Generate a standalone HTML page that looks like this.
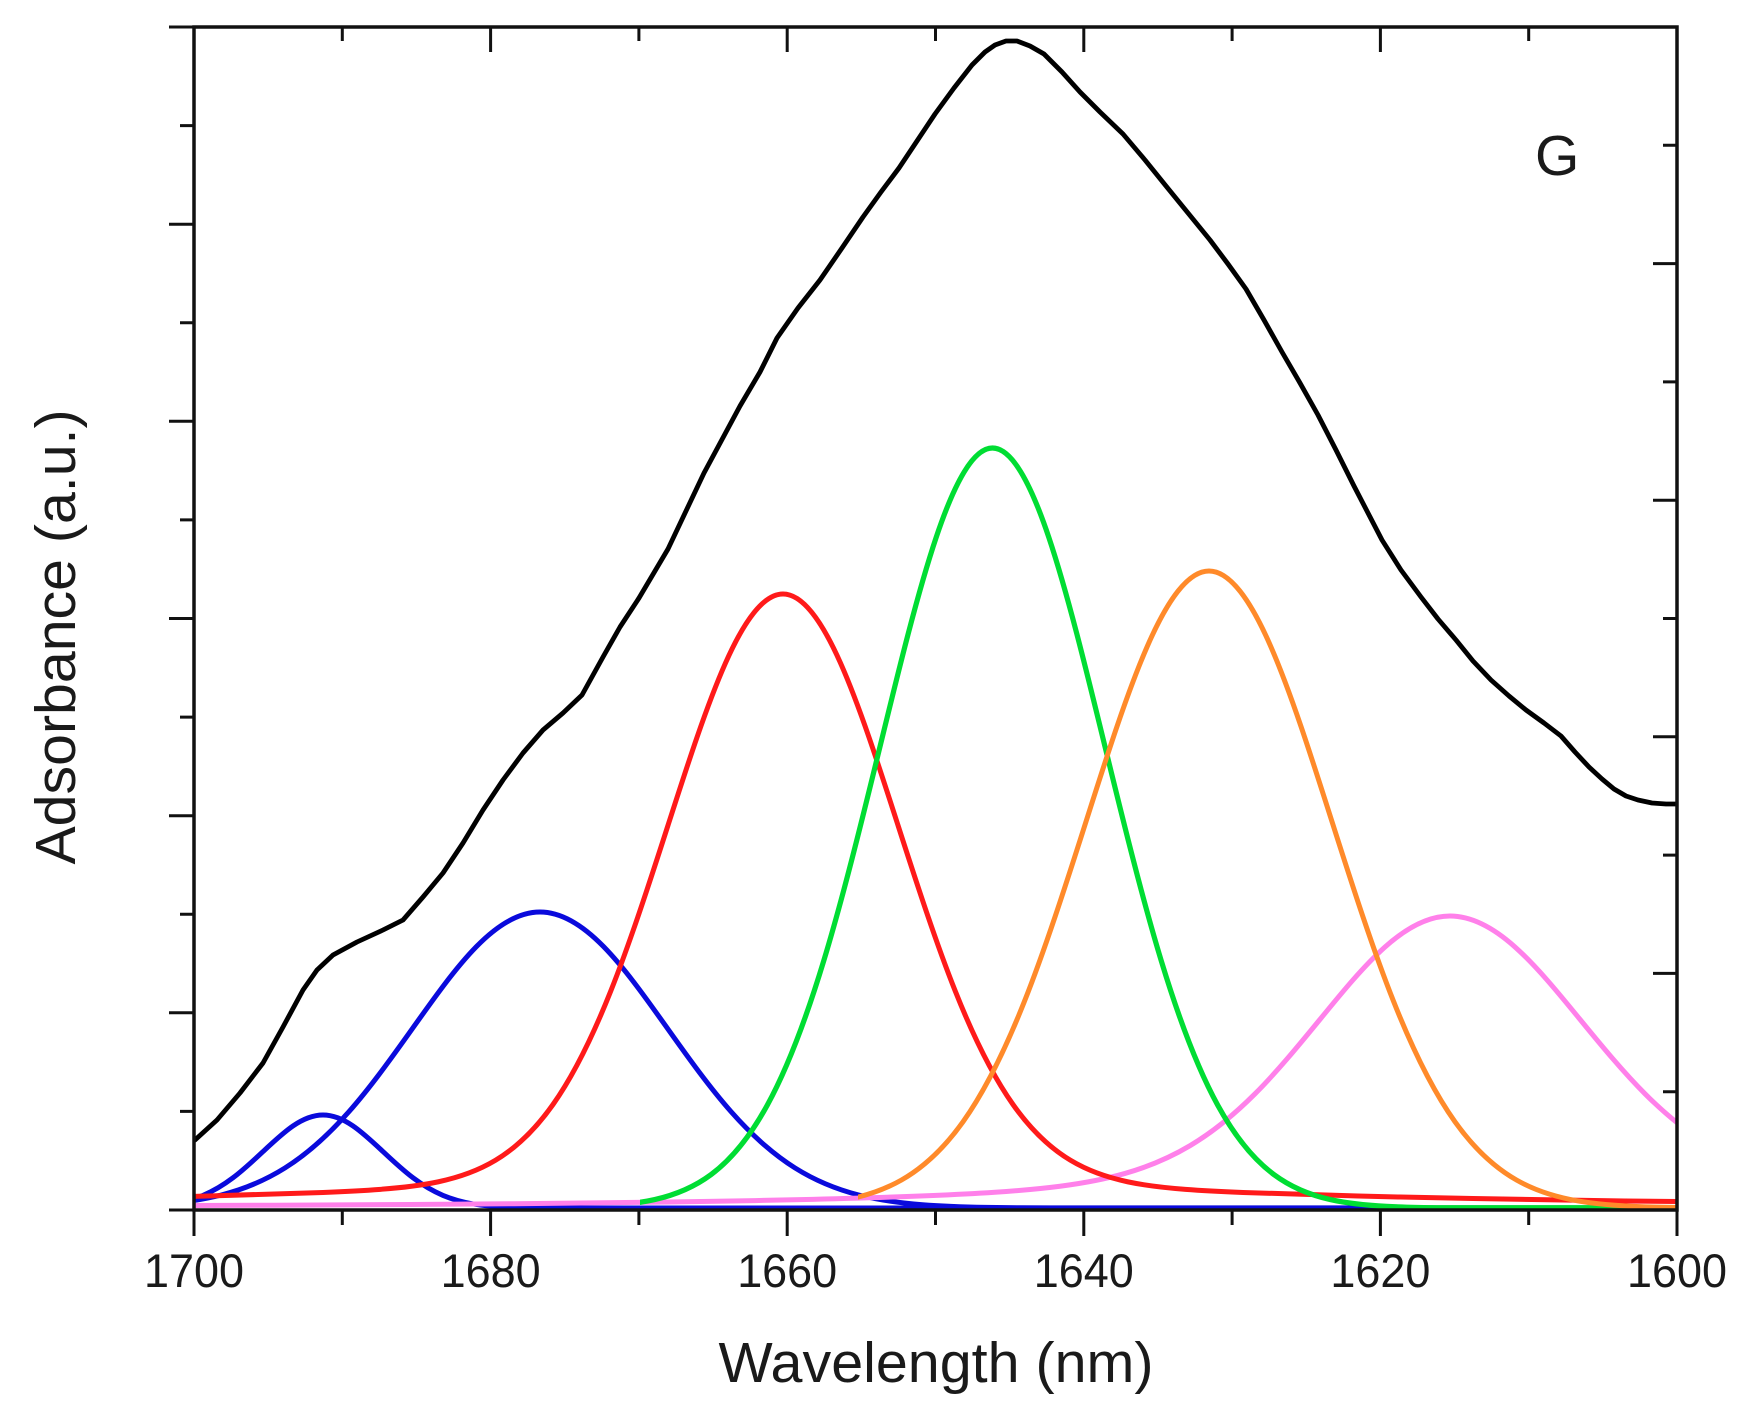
<!DOCTYPE html>
<html>
<head>
<meta charset="utf-8">
<style>
html, body { margin:0; padding:0; background:#ffffff; }
body { width:1746px; height:1423px; overflow:hidden; }
svg { display:block; }
text { font-family: "Liberation Sans", Arial, sans-serif; fill:#1a1a1a; }
</style>
</head>
<body>
<svg width="1746" height="1423" viewBox="0 0 1746 1423" xmlns="http://www.w3.org/2000/svg" xmlns:xlink="http://www.w3.org/1999/xlink">
<defs>
<clipPath id="plot"><rect x="194" y="0" width="1483" height="1212"/></clipPath>
<clipPath id="clipGreen"><rect x="640" y="0" width="1037" height="1212"/></clipPath>
<clipPath id="clipOrange"><rect x="858" y="0" width="819" height="1212"/></clipPath>
<path id="gauss" vector-effect="non-scaling-stroke" d="M-30 0 L-4 0.000335 C-3.8333 0.00056 -3.6667 0.00091 -3.5 0.00219 C-3.3333 0.00347 -3.1667 0.00555 -3 0.01111 C-2.8333 0.01667 -2.6667 0.02563 -2.5 0.04394 C-2.3333 0.06225 -2.1667 0.09023 -2 0.13534 C-1.8333 0.18045 -1.6667 0.24349 -1.5 0.32465 C-1.3333 0.40581 -1.1667 0.50544 -1 0.60653 C-0.8333 0.70762 -0.6667 0.80896 -0.5 0.8825 C-0.3333 0.95604 -0.1667 1 0 1 C0.1667 1 0.3333 0.95604 0.5 0.8825 C0.6667 0.80896 0.8333 0.70762 1 0.60653 C1.1667 0.50544 1.3333 0.40581 1.5 0.32465 C1.6667 0.24349 1.8333 0.18045 2 0.13534 C2.1667 0.09023 2.3333 0.06225 2.5 0.04394 C2.6667 0.02563 2.8333 0.01667 3 0.01111 C3.1667 0.00555 3.3333 0.00347 3.5 0.00219 C3.6667 0.00091 3.8333 0.00056 4 0.000335 L30 0"/>
</defs>
<rect x="0" y="0" width="1746" height="1423" fill="#ffffff"/>

<g clip-path="url(#plot)" fill="none" stroke-linejoin="round">
<polyline stroke="#000000" stroke-width="4.8" stroke-linecap="round" points="195,1140 217,1120 240,1093 263,1063 283,1027 303,990 317,970 333,955 357,942 383,930 403,920 423,897 443,873 463,843 483,810 503,780 523,753 543,730 563,713 582,695 603,657 620,627 639,598 668,549 704,473 740,406 760,372 777,338 798,308 820,280 842,248 863,217 881,192 899,168 917,141 935,114 954,88 972,65 985,52 995,45 1006,41 1017,41 1030,46 1044,54 1062,72 1080,92 1100,112 1123,134 1145,160 1166,186 1188,213 1210,240 1228,264 1246,289 1264,320 1282,352 1300,383 1318,415 1336,450 1354,486 1368,513 1382,540 1401,570 1421,597 1438,619 1456,640 1473,661 1491,680 1509,696 1526,710 1544,723 1561,736 1575,752 1589,767 1602,779 1614,789 1626,796 1638,800 1652,803 1666,804 1677,804"/>
<use href="#gauss" xlink:href="#gauss" transform="translate(323,1208) scale(60,-93)" stroke="#0a0adc" stroke-width="5"/>
<use href="#gauss" xlink:href="#gauss" transform="translate(540,1208) scale(127.5,-296)" stroke="#0a0adc" stroke-width="5"/>
<path transform="translate(1450,1208) scale(130,-292)" vector-effect="non-scaling-stroke" stroke="#ff80ea" stroke-width="5" d="M-10 0.00785 C-9.3333 0.00886 -8.6667 0.01014 -8 0.01205 C-7.3333 0.01396 -6.6667 0.01643 -6 0.02064 C-5.6667 0.02274 -5.3333 0.02529 -5 0.02868 C-4.6667 0.03207 -4.3333 0.03618 -4 0.04235 C-3.8333 0.04544 -3.6667 0.04903 -3.5 0.05393 C-3.3333 0.05883 -3.1667 0.06494 -3 0.07451 C-2.8333 0.08408 -2.6667 0.09708 -2.5 0.11831 C-2.3333 0.13954 -2.1667 0.16925 -2 0.21339 C-1.8333 0.25753 -1.6667 0.31672 -1.5 0.39103 C-1.3333 0.46534 -1.1667 0.5551 -1 0.64594 C-0.8333 0.73678 -0.6667 0.82773 -0.5 0.89397 C-0.3333 0.96021 -0.1667 1 0 1 C0.1667 1 0.3333 0.96021 0.5 0.89397 C0.6667 0.82773 0.8333 0.73678 1 0.64594 C1.1667 0.5551 1.3333 0.46534 1.5 0.39103 C1.6667 0.31672 1.8333 0.25753 2 0.21339 C2.1667 0.16925 2.3333 0.13954 2.5 0.11831"/>
<path transform="translate(783,1208) scale(115,-614)" vector-effect="non-scaling-stroke" stroke="#ff1a1a" stroke-width="5" d="M-10 0.0069 C-9.3333 0.00769 -8.6667 0.00867 -8 0.01 C-7.3333 0.01133 -6.6667 0.01301 -6 0.01538 C-5.6667 0.01656 -5.3333 0.01792 -5 0.01951 C-4.6667 0.0211 -4.3333 0.02281 -4 0.02532 C-3.8333 0.02657 -3.6667 0.02802 -3.5 0.0304 C-3.3333 0.03278 -3.1667 0.03599 -3 0.04255 C-2.8333 0.04911 -2.6667 0.05896 -2.5 0.0777 C-2.3333 0.09644 -2.1667 0.12438 -2 0.16857 C-1.8333 0.21276 -1.6667 0.27395 -1.5 0.35226 C-1.3333 0.43057 -1.1667 0.5263 -1 0.62326 C-0.8333 0.72022 -0.6667 0.81724 -0.5 0.88761 C-0.3333 0.95798 -0.1667 1 0 1 C0.1667 1 0.3333 0.95798 0.5 0.88761 C0.6667 0.81724 0.8333 0.72022 1 0.62326 C1.1667 0.5263 1.3333 0.43057 1.5 0.35226 C1.6667 0.27395 1.8333 0.21276 2 0.16857 C2.1667 0.12438 2.3333 0.09644 2.5 0.0777 C2.6667 0.05896 2.8333 0.04911 3 0.04255 C3.1667 0.03599 3.3333 0.03278 3.5 0.0304 C3.6667 0.02802 3.8333 0.02657 4 0.02532 C4.3333 0.02281 4.6667 0.0211 5 0.01951 C5.3333 0.01792 5.6667 0.01656 6 0.01538 C6.6667 0.01301 7.3333 0.01133 8 0.01 C8.6667 0.00867 9.3333 0.00769 10 0.0069"/>
</g>
<g clip-path="url(#clipGreen)" fill="none" stroke-linejoin="round">
<use href="#gauss" xlink:href="#gauss" transform="translate(992.5,1208) scale(112.6,-760)" stroke="#00dd33" stroke-width="5.2"/>
</g>
<g clip-path="url(#clipOrange)" fill="none" stroke-linejoin="round">
<use href="#gauss" xlink:href="#gauss" transform="translate(1209,1208) scale(123,-637)" stroke="#ff8a2a" stroke-width="5"/>
</g>

<rect x="194" y="27" width="1483" height="1183" fill="none" stroke="#111111" stroke-width="3.5"/>

<path fill="none" stroke="#111111" stroke-width="3" d="M194 1210v26 M342.3 1210v15 M490.6 1210v26 M638.9 1210v15 M787.2 1210v26 M935.5 1210v15 M1083.8 1210v26 M1232.1 1210v15 M1380.4 1210v26 M1528.7 1210v15 M1677 1210v26"/>
<path fill="none" stroke="#111111" stroke-width="3" d="M342.3 27v14 M490.6 27v25 M638.9 27v14 M787.2 27v25 M935.5 27v14 M1083.8 27v25 M1232.1 27v14 M1380.4 27v25 M1528.7 27v14"/>
<path fill="none" stroke="#111111" stroke-width="3" d="M169 27h25 M180 125.6h14 M169 224.2h25 M180 322.7h14 M169 421.3h25 M180 519.9h14 M169 618.5h25 M180 717.1h14 M169 815.7h25 M180 914.2h14 M169 1012.8h25 M180 1111.4h14 M169 1210h25"/>
<path fill="none" stroke="#111111" stroke-width="3" d="M1663 1091.7h14 M1653 973.4h24 M1663 855.1h14 M1653 736.8h24 M1663 618.5h14 M1653 500.2h24 M1663 381.9h14 M1653 263.6h24 M1663 145.3h14"/>

<g font-size="47" text-anchor="middle">
<text x="194" y="1287" textLength="100" lengthAdjust="spacingAndGlyphs">1700</text>
<text x="490.6" y="1287" textLength="100" lengthAdjust="spacingAndGlyphs">1680</text>
<text x="787.2" y="1287" textLength="100" lengthAdjust="spacingAndGlyphs">1660</text>
<text x="1083.8" y="1287" textLength="100" lengthAdjust="spacingAndGlyphs">1640</text>
<text x="1380.4" y="1287" textLength="100" lengthAdjust="spacingAndGlyphs">1620</text>
<text x="1677" y="1287" textLength="100" lengthAdjust="spacingAndGlyphs">1600</text>
</g>

<text x="936" y="1382" font-size="57" text-anchor="middle" textLength="435" lengthAdjust="spacingAndGlyphs">Wavelength (nm)</text>
<text x="75" y="637" font-size="57" text-anchor="middle" textLength="455" lengthAdjust="spacingAndGlyphs" transform="rotate(-90 75 637)">Adsorbance (a.u.)</text>
<text x="1535" y="175" font-size="57">G</text>
</svg>
</body>
</html>
